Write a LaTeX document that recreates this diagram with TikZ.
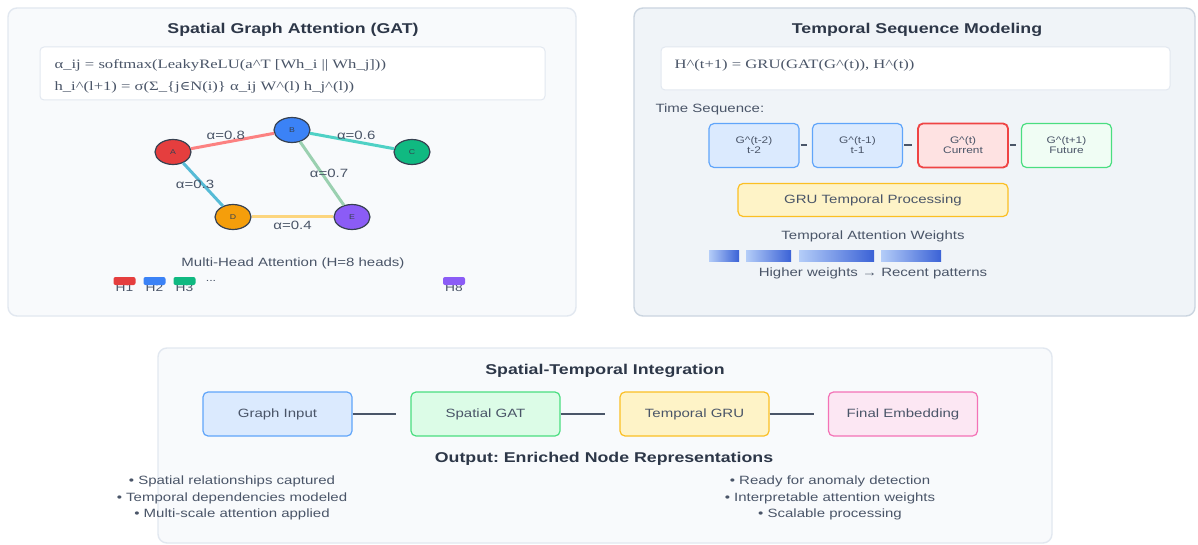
\documentclass[tikz,border=0pt]{standalone}
\usepackage{fontspec}
\setmainfont{Liberation Sans}[FakeStretch=1.25]
\newfontfamily\formfont{Liberation Serif}[FakeStretch=1.3]
\newfontfamily\symfont{DejaVu Serif}[FakeStretch=1.1]
\usetikzlibrary{shapes.geometric}
\frenchspacing

\definecolor{panelbg}{HTML}{F8FAFC}
\definecolor{panelbgb}{HTML}{F0F4F8}
\definecolor{panelline}{HTML}{E2E8F0}
\definecolor{panellineb}{HTML}{CBD5E0}
\definecolor{titlegray}{HTML}{2D3748}
\definecolor{textgray}{HTML}{4A5568}
\definecolor{nodeline}{HTML}{374151}
\definecolor{linkgray}{HTML}{4A5568}
\definecolor{nred}{HTML}{E53E3E}
\definecolor{nblue}{HTML}{3B82F6}
\definecolor{ngreen}{HTML}{10B981}
\definecolor{norange}{HTML}{F59E0B}
\definecolor{npurple}{HTML}{8B5CF6}
\definecolor{eab}{HTML}{FC8181}
\definecolor{ebc}{HTML}{4FD1C5}
\definecolor{ead}{HTML}{56BBD6}
\definecolor{ebe}{HTML}{9AD0B0}
\definecolor{ede}{HTML}{FCD57E}
\definecolor{bluefill}{HTML}{DBEAFE}
\definecolor{blueline}{HTML}{60A5FA}
\definecolor{redfill}{HTML}{FEE2E2}
\definecolor{redline}{HTML}{EF4444}
\definecolor{greenfill}{HTML}{DCFCE7}
\definecolor{greenfillb}{HTML}{F0FDF4}
\definecolor{greenline}{HTML}{4ADE80}
\definecolor{yellowfill}{HTML}{FEF3C7}
\definecolor{yellowline}{HTML}{FBBF24}
\definecolor{pinkfill}{HTML}{FCE7F3}
\definecolor{pinkline}{HTML}{F472B6}
\definecolor{wlight}{HTML}{B4CDF8}
\definecolor{wdark}{HTML}{3B62D6}

\tikzset{
  panel/.style={line width=1.4pt, rounded corners=9pt},
  heading/.style={font=\fontsize{14.2}{17}\selectfont\bfseries, text=titlegray},
  formbox/.style={draw=panelline, fill=white, line width=1pt, rounded corners=4pt},
  formula/.style={font=\formfont\fontsize{12.8}{15}\selectfont, text=textgray, anchor=west},
  gnode/.style={ellipse, draw=nodeline, line width=1.2pt, minimum width=36pt, minimum height=25pt,
    inner sep=0pt, font=\fontsize{7}{8}\selectfont, text=nodeline},
  edge/.style={line width=3pt},
  elabel/.style={font=\fontsize{12}{14}\selectfont, text=textgray, inner sep=1pt},
  note/.style={font=\fontsize{12}{14}\selectfont, text=textgray},
  chip/.style={rounded corners=2pt, minimum width=22pt, minimum height=8pt, inner sep=0pt},
  seqbox/.style={rounded corners=5pt, line width=1.2pt, minimum width=90pt, minimum height=44pt,
    align=center, font=\fontsize{9.5}{10}\selectfont, text=textgray},
  flowbox/.style={rounded corners=5pt, line width=1.2pt, minimum width=149pt, minimum height=44pt,
    font=\fontsize{12}{14}\selectfont, text=textgray},
  seqlink/.style={line width=2pt, draw=linkgray, shorten <=1pt, shorten >=5pt},
  flow/.style={line width=2pt, draw=linkgray, shorten >=14pt},
}

\begin{document}
\begin{tikzpicture}[x=1pt,y=-1pt]
\useasboundingbox (0,0) rectangle (1198,545);
\fill[white] (0,0) rectangle (1198,545);

% spatial panel
\filldraw[panel, draw=panelline, fill=panelbg] (8,8) rectangle (576,316);
\node[heading] (gat-title) at (293,30) {Spatial Graph Attention (GAT)};
\filldraw[formbox] (40,47) rectangle (545,100);
\node[formula] (eq-att) at (51,65) {α\_ij = softmax(LeakyReLU(a\textasciicircum T [Wh\_i || Wh\_j]))};
\node[formula] (eq-agg) at (51,87) {h\_i\textasciicircum(l+1) = σ(Σ\_\{j{\symfont ∈}N(i)\} α\_ij W\textasciicircum(l) h\_j\textasciicircum(l))};

\node[gnode, fill=nred]    (A) at (173,152) {A};
\node[gnode, fill=nblue]   (B) at (292,130) {B};
\node[gnode, fill=ngreen]  (C) at (412,152) {C};
\node[gnode, fill=norange] (D) at (233,217) {D};
\node[gnode, fill=npurple] (E) at (352,217) {E};

\draw[edge, eab] (A) -- node[elabel, above, pos=.42] {α=0.8} (B);
\draw[edge, ebc] (B) -- node[elabel, above, pos=.55] {α=0.6} (C);
\draw[edge, ead] (A) -- node[elabel, pos=.5, xshift=-8pt] {α=0.3} (D);
\draw[edge, ebe] (B) -- node[elabel, pos=.5, xshift=7pt] {α=0.7} (E);
\draw[edge, ede] (D) -- node[elabel, below=2pt] {α=0.4} (E);

\node[note] (heads) at (293,263) {Multi-Head Attention (H=8 heads)};
\foreach \hx/\hc/\hn in {124.5/nred/1, 154.5/nblue/2, 184.5/ngreen/3, 454/npurple/8}{
  \node[note, font=\fontsize{11}{12}\selectfont] (hl\hn) at (\hx,288) {H\hn};
  \node[chip, fill=\hc] (h\hn) at (\hx,281) {};
}
\node[note, font=\fontsize{10}{10}\selectfont] (hdots) at (211,281) {...};

% temporal panel
\filldraw[panel, draw=panellineb, fill=panelbgb] (634,8) rectangle (1195,316);
\node[heading] (seq-title) at (917,30) {Temporal Sequence Modeling};
\filldraw[formbox] (661,47) rectangle (1170,90);
\node[formula] (eq-gru) at (671,65) {H\textasciicircum(t+1) = GRU(GAT(G\textasciicircum(t)), H\textasciicircum(t))};
\node[note, anchor=west] (tseq) at (652,109) {Time Sequence:};

\node[seqbox, draw=blueline, fill=bluefill] (s1) at (754,145.5) {G\textasciicircum(t-2)\\t-2};
\node[seqbox, draw=blueline, fill=bluefill] (s2) at (857.5,145.5) {G\textasciicircum(t-1)\\t-1};
\node[seqbox, draw=redline, fill=redfill, line width=1.8pt] (s3) at (963,145.5) {G\textasciicircum(t)\\Current};
\node[seqbox, draw=greenline, fill=greenfillb] (s4) at (1066.5,145.5) {G\textasciicircum(t+1)\\Future};
\draw[seqlink] (s1) -- (s2);
\draw[seqlink] (s2) -- (s3);
\draw[seqlink] (s3) -- (s4);

\node[flowbox, draw=yellowline, fill=yellowfill, minimum width=270pt, minimum height=33pt] (gru) at (873,200) {GRU Temporal Processing};
\node[note] (wtitle) at (873,236) {Temporal Attention Weights};
\shade[left color=wlight, right color=wdark] (709,250) rectangle (739,261);
\shade[left color=wlight, right color=wdark] (746,250) rectangle (791,261);
\shade[left color=wlight, right color=wdark] (799,250) rectangle (874,261);
\shade[left color=wlight, right color=wdark] (881,250) rectangle (941,261);
\node[note] (wnote) at (873,273) {Higher weights → Recent patterns};

% integration panel
\filldraw[panel, draw=panelline, fill=panelbg] (158,348) rectangle (1052,543);
\node[heading] (st-title) at (605,371) {Spatial-Temporal Integration};
\node[flowbox, draw=blueline, fill=bluefill]     (gin) at (277.5,414) {Graph Input};
\node[flowbox, draw=greenline, fill=greenfill]   (sgat) at (485.5,414) {Spatial GAT};
\node[flowbox, draw=yellowline, fill=yellowfill] (tgru) at (694.5,414) {Temporal GRU};
\node[flowbox, draw=pinkline, fill=pinkfill]     (femb) at (903,414) {Final Embedding};
\draw[flow] (gin) -- (sgat);
\draw[flow] (sgat) -- (tgru);
\draw[flow] (tgru) -- (femb);

\node[heading] (out) at (604,459) {Output: Enriched Node Representations};
\node[note, align=center, font=\fontsize{12}{16.5}\selectfont] (pros-l) at (232,498)
  {• Spatial relationships captured\\• Temporal dependencies modeled\\• Multi-scale attention applied};
\node[note, align=center, font=\fontsize{12}{16.5}\selectfont] (pros-r) at (830,498)
  {• Ready for anomaly detection\\• Interpretable attention weights\\• Scalable processing};
\end{tikzpicture}
\end{document}
